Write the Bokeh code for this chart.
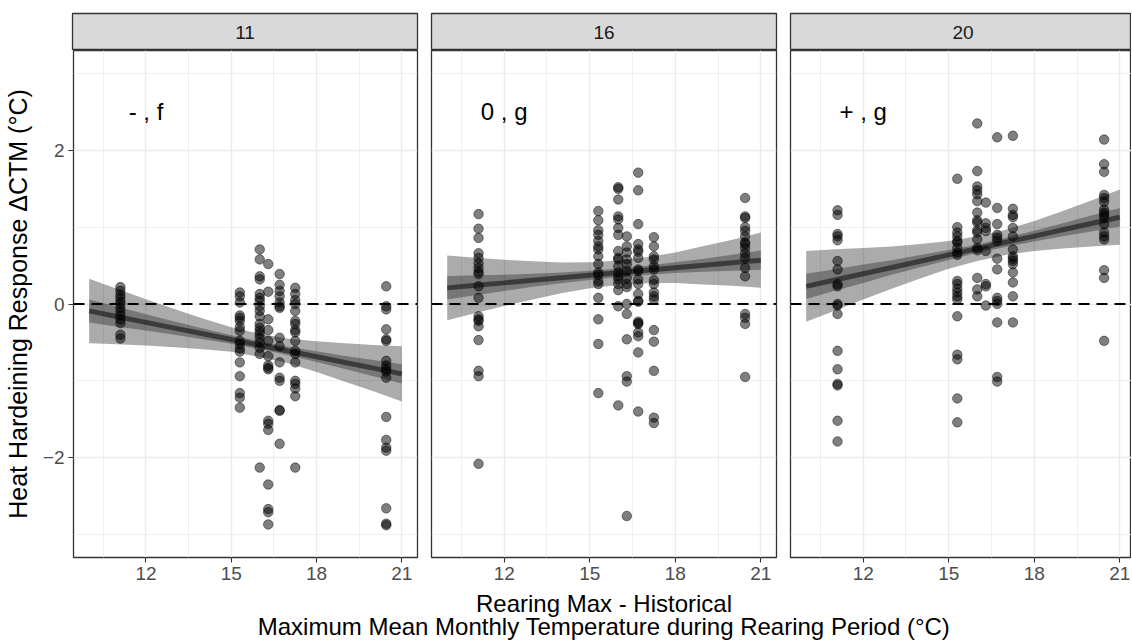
from bokeh.plotting import figure
from bokeh.models import Range1d, FixedTicker, Span, Label
from bokeh.layouts import column, row
from bokeh.embed import file_html
from bokeh.resources import INLINE

FONT = "Liberation Sans"

# ---------------- data ----------------
FACETS = ["11", "16", "20"]
ANNOTATIONS = ["- , f", "0 , g", "+ , g"]
X_LEVELS = [11.1, 15.3, 16.0, 16.3, 16.7, 17.25, 20.45]

P11_Y = [
    [0.22, 0.17, 0.12, 0.08, 0.03, 0.0, -0.05, -0.1, -0.15, -0.2, -0.25, -0.4, -0.45],
    [0.15, 0.1, 0.02, -0.15, -0.18, -0.22, -0.3, -0.35, -0.48, -0.52, -0.58, -0.62, -0.76, -0.94, -1.16, -1.22, -1.35],
    [0.71, 0.58, 0.36, 0.32, 0.13, 0.08, 0.04, -0.03, -0.09, -0.16, -0.26, -0.31, -0.35, -0.39, -0.44, -0.5, -0.57, -0.65, -2.13],
    [0.52, 0.16, -0.2, -0.34, -0.48, -0.68, -0.8, -0.83, -0.85, -1.52, -1.56, -1.64, -2.35, -2.67, -2.71, -2.87],
    [0.39, 0.25, 0.17, 0.1, 0.02, -0.03, -0.05, -0.44, -0.55, -0.76, -0.96, -1.0, -1.38, -1.39, -1.82],
    [0.21, 0.13, 0.05, 0.0, -0.09, -0.22, -0.26, -0.34, -0.37, -0.48, -0.61, -0.65, -0.76, -1.0, -1.04, -1.1, -1.2, -2.13],
    [0.23, -0.03, -0.07, -0.33, -0.46, -0.48, -0.74, -0.8, -0.85, -0.88, -0.96, -1.47, -1.77, -1.87, -1.91, -2.66, -2.86, -2.88],
]
P16_Y = [
    [1.17, 0.98, 0.86, 0.66, 0.6, 0.53, 0.47, 0.42, 0.39, 0.23, 0.08, -0.16, -0.2, -0.22, -0.29, -0.47, -0.87, -0.94, -2.08],
    [1.21, 1.09, 0.96, 0.9, 0.82, 0.75, 0.71, 0.62, 0.52, 0.41, 0.38, 0.3, 0.26, 0.08, -0.2, -0.52, -1.16],
    [1.52, 1.5, 1.36, 1.14, 1.1, 0.99, 0.9, 0.69, 0.6, 0.58, 0.49, 0.41, 0.36, 0.32, 0.26, 0.18, -0.03, -1.32],
    [0.88, 0.75, 0.67, 0.58, 0.52, 0.43, 0.34, 0.26, 0.22, 0.0, -0.13, -0.46, -0.94, -1.01, -2.76],
    [1.71, 1.48, 1.04, 0.78, 0.71, 0.68, 0.6, 0.45, 0.43, 0.32, 0.26, 0.13, 0.04, 0.03, -0.23, -0.25, -0.26, -0.37, -0.42, -0.63, -1.4],
    [0.87, 0.75, 0.62, 0.58, 0.49, 0.45, 0.31, 0.26, 0.15, 0.1, 0.06, -0.34, -0.49, -0.87, -1.48, -1.55],
    [1.38, 1.14, 1.12, 1.0, 0.95, 0.88, 0.8, 0.78, 0.73, 0.66, 0.6, 0.47, 0.36, -0.13, -0.18, -0.26, -0.95],
]
P20_Y = [
    [1.22, 1.16, 0.91, 0.88, 0.83, 0.56, 0.45, 0.26, 0.23, 0.0, -0.02, -0.13, -0.61, -0.85, -1.04, -1.06, -1.52, -1.79],
    [1.63, 1.0, 0.93, 0.88, 0.82, 0.8, 0.73, 0.67, 0.64, 0.3, 0.26, 0.2, 0.15, 0.1, 0.06, -0.16, -0.66, -0.72, -1.23, -1.54],
    [2.35, 1.73, 1.53, 1.48, 1.43, 1.34, 1.19, 1.09, 1.06, 0.96, 0.93, 0.84, 0.73, 0.7, 0.34, 0.19, 0.1],
    [1.32, 1.05, 0.99, 0.95, 0.69, 0.26, 0.23, -0.02],
    [2.17, 1.25, 1.04, 0.9, 0.86, 0.82, 0.59, 0.45, 0.08, 0.04, 0.0, -0.24, -0.95, -1.01],
    [2.19, 1.24, 1.16, 1.13, 0.99, 0.88, 0.71, 0.62, 0.59, 0.56, 0.52, 0.41, 0.28, 0.1, -0.24],
    [2.14, 1.82, 1.72, 1.42, 1.38, 1.33, 1.23, 1.19, 1.16, 1.12, 1.04, 0.93, 0.88, 0.84, 0.44, 0.34, -0.48],
]

FIT_X = [10, 11, 12, 13, 14, 15, 16, 17, 18, 19, 20, 21]
P11_FIT = [-0.09, -0.165, -0.239, -0.314, -0.388, -0.463, -0.537, -0.612, -0.686, -0.761, -0.835, -0.91]
P11_OUTER = [0.42, 0.36, 0.30, 0.25, 0.20, 0.16, 0.15, 0.16, 0.20, 0.25, 0.30, 0.36]
P11_INNER = [0.15, 0.13, 0.105, 0.085, 0.07, 0.055, 0.05, 0.055, 0.07, 0.085, 0.105, 0.125]
P16_FIT = [0.21, 0.243, 0.275, 0.308, 0.341, 0.374, 0.406, 0.439, 0.472, 0.504, 0.537, 0.57]
P16_OUTER = [0.42, 0.36, 0.30, 0.25, 0.20, 0.17, 0.16, 0.17, 0.20, 0.25, 0.30, 0.36]
P16_INNER = [0.15, 0.13, 0.105, 0.085, 0.07, 0.06, 0.055, 0.06, 0.07, 0.085, 0.105, 0.125]
P20_FIT = [0.23, 0.312, 0.394, 0.475, 0.557, 0.639, 0.721, 0.803, 0.884, 0.966, 1.048, 1.13]
P20_OUTER = [0.46, 0.40, 0.335, 0.275, 0.225, 0.18, 0.16, 0.165, 0.195, 0.245, 0.30, 0.36]
P20_INNER = [0.165, 0.14, 0.12, 0.095, 0.08, 0.065, 0.055, 0.06, 0.07, 0.085, 0.105, 0.12]

X_TICKS = [12, 15, 18, 21]
X_MINOR = [10.5, 13.5, 16.5, 19.5]
Y_TICKS = [-2, 0, 2]
Y_MINOR = [-3, -1, 1, 3]

Y_TITLE = "Heat Hardeining Response \u0394CTM (\u00b0C)"
X_TITLE_1 = "Rearing Max - Historical"
X_TITLE_2 = "Maximum Mean Monthly Temperature during Rearing Period (\u00b0C)"

PANELS = [
    (P11_Y, P11_FIT, P11_OUTER, P11_INNER),
    (P16_Y, P16_FIT, P16_OUTER, P16_INNER),
    (P20_Y, P20_FIT, P20_OUTER, P20_INNER),
]

# ---------------- layout geometry ----------------
FRAME_W = [345, 345, 341]
LEFT_B = [72, 7, 7]
RIGHT_B = [7, 7, 0]
X_START = 9.45
PX_PER_UNIT = 345 / 12.1
Y_RANGE = (-3.3, 3.3)

strips = []
panels = []
for i in range(3):
    ys, fit, outer, inner = PANELS[i]
    x_end = X_START + FRAME_W[i] / PX_PER_UNIT
    xr = Range1d(X_START, x_end)
    width = LEFT_B[i] + FRAME_W[i] + RIGHT_B[i]

    # ---- strip ----
    s = figure(width=width, height=50, x_range=xr, y_range=Range1d(0, 1),
               x_axis_location=None, y_axis_location=None,
               toolbar_location=None, output_backend="svg",
               min_border_left=LEFT_B[i], min_border_right=RIGHT_B[i],
               min_border_top=13, min_border_bottom=0)
    s.grid.visible = False
    s.background_fill_color = "#d9d9d9"
    s.border_fill_color = "white"
    s.outline_line_color = "#333333"
    s.outline_line_width = 1.3
    s.add_layout(Label(x=(X_START + 21.55) / 2, y=0.5, text=FACETS[i],
                       text_align="center", text_baseline="middle",
                       text_font=FONT, text_font_size="19px", text_color="#1a1a1a"))
    strips.append(s)

    # ---- panel ----
    p = figure(width=width, height=538, x_range=xr, y_range=Range1d(*Y_RANGE),
               y_axis_location="left" if i == 0 else None,
               toolbar_location=None, output_backend="svg",
               min_border_left=LEFT_B[i], min_border_right=RIGHT_B[i],
               min_border_top=0, min_border_bottom=31)
    p.background_fill_color = "white"
    p.border_fill_color = "white"
    p.outline_line_color = "#333333"
    p.outline_line_width = 1.3

    p.xaxis.ticker = FixedTicker(ticks=X_TICKS, minor_ticks=X_MINOR)
    p.xgrid.ticker = FixedTicker(ticks=X_TICKS, minor_ticks=X_MINOR)
    p.ygrid.ticker = FixedTicker(ticks=Y_TICKS, minor_ticks=Y_MINOR)
    for g in (p.xgrid, p.ygrid):
        g.grid_line_color = "#ebebeb"
        g.grid_line_width = 1.4
        g.minor_grid_line_color = "#ebebeb"
        g.minor_grid_line_width = 0.8

    axes = list(p.xaxis) + (list(p.yaxis) if i == 0 else [])
    for ax in axes:
        ax.axis_line_color = None
        ax.major_tick_line_color = "#333333"
        ax.major_tick_line_width = 1.1
        ax.major_tick_out = 5
        ax.major_tick_in = 0
        ax.minor_tick_line_color = None
        ax.major_label_text_font = FONT
        ax.major_label_text_font_size = "19px"
        ax.major_label_text_color = "#4d4d4d"
        ax.major_label_standoff = 4
    if i == 0:
        p.yaxis.ticker = FixedTicker(ticks=Y_TICKS, minor_ticks=Y_MINOR)
        p.yaxis.axis_label = Y_TITLE
        p.yaxis.axis_label_text_font = FONT
        p.yaxis.axis_label_text_font_size = "25px"
        p.yaxis.axis_label_text_font_style = "normal"
        p.yaxis.axis_label_text_color = "black"
        p.yaxis.axis_label_standoff = 8

    xs, yv = [], []
    for lvl, col in zip(X_LEVELS, ys):
        for v in col:
            xs.append(lvl)
            yv.append(v)
    p.scatter(xs, yv, size=9.5, fill_color="black", fill_alpha=0.5,
              line_color="black", line_alpha=0.45, line_width=1)

    p.varea(x=FIT_X, y1=[f - o for f, o in zip(fit, outer)],
            y2=[f + o for f, o in zip(fit, outer)],
            fill_color="black", fill_alpha=0.33)
    p.varea(x=FIT_X, y1=[f - o for f, o in zip(fit, inner)],
            y2=[f + o for f, o in zip(fit, inner)],
            fill_color="black", fill_alpha=0.3)
    p.line(FIT_X, fit, line_color="black", line_alpha=0.5, line_width=5)

    p.add_layout(Span(location=0, dimension="width", line_color="black",
                      line_dash="11 7", line_width=2))
    p.add_layout(Label(x=12, y=2.5, text=ANNOTATIONS[i], text_align="center",
                       text_baseline="middle", text_font=FONT,
                       text_font_size="24px", text_color="black"))
    panels.append(p)

# ---- shared x title ----
total_w = sum(LEFT_B) + sum(FRAME_W) + sum(RIGHT_B)
t = figure(width=total_w, height=52,
           x_range=Range1d(0, total_w), y_range=Range1d(640, 588),
           x_axis_location=None, y_axis_location=None,
           toolbar_location=None, output_backend="svg",
           min_border_left=0, min_border_right=0, min_border_top=0, min_border_bottom=0)
t.grid.visible = False
t.outline_line_color = None
t.background_fill_color = "white"
t.border_fill_color = "white"
center_x = 603.5
t.add_layout(Label(x=center_x, y=589, text=X_TITLE_1, text_align="center",
                   text_baseline="top", text_font=FONT,
                   text_font_size="24px", text_color="black"))
t.add_layout(Label(x=center_x, y=639, text=X_TITLE_2, text_align="center",
                   text_baseline="bottom", text_font=FONT,
                   text_font_size="24px", text_color="black"))

layout = column(row(*strips), row(*panels), t)
open("out.html", "w").write(file_html(layout, INLINE))
